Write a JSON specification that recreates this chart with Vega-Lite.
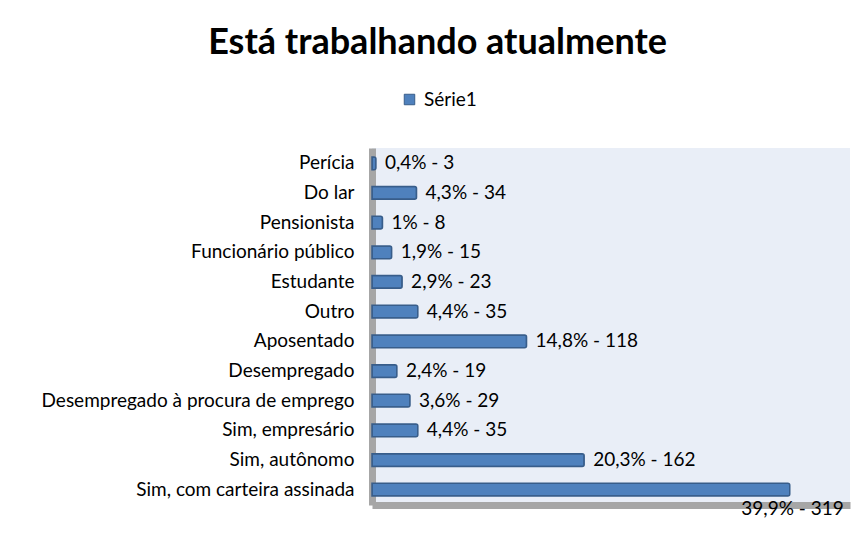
{
  "$schema": "https://vega.github.io/schema/vega-lite/v6.json",
  "width": 478,
  "height": 357,
  "padding": {"left": 41, "top": 25, "right": 11, "bottom": 5},
  "background": "white",
  "title": {
    "text": "Está trabalhando atualmente",
    "font": "Lato",
    "fontSize": 36,
    "fontWeight": "bold",
    "color": "black",
    "anchor": "middle",
    "frame": "bounds",
    "offset": 28,
    "dx": -8
  },
  "data": {
    "values": [
      {"cat": "Perícia", "n": 3, "label": "0,4% - 3", "serie": "Série1"},
      {"cat": "Do lar", "n": 34, "label": "4,3% - 34", "serie": "Série1"},
      {"cat": "Pensionista", "n": 8, "label": "1% - 8", "serie": "Série1"},
      {"cat": "Funcionário público", "n": 15, "label": "1,9% - 15", "serie": "Série1"},
      {"cat": "Estudante", "n": 23, "label": "2,9% - 23", "serie": "Série1"},
      {"cat": "Outro", "n": 35, "label": "4,4% - 35", "serie": "Série1"},
      {"cat": "Aposentado", "n": 118, "label": "14,8% - 118", "serie": "Série1"},
      {"cat": "Desempregado", "n": 19, "label": "2,4% - 19", "serie": "Série1"},
      {"cat": "Desempregado à procura de emprego", "n": 29, "label": "3,6% - 29", "serie": "Série1"},
      {"cat": "Sim, empresário", "n": 35, "label": "4,4% - 35", "serie": "Série1"},
      {"cat": "Sim, autônomo", "n": 162, "label": "20,3% - 162", "serie": "Série1"},
      {"cat": "Sim, com carteira assinada", "n": 319, "label": "39,9% - 319", "serie": "Série1"}
    ]
  },
  "encoding": {
    "y": {
      "field": "cat",
      "type": "nominal",
      "sort": null,
      "title": null,
      "scale": {"paddingInner": 0.57, "paddingOuter": 0.3},
      "axis": {
        "ticks": false,
        "labelFont": "Lato",
        "labelFontSize": 19,
        "labelColor": "black",
        "labelPadding": 18,
        "domainColor": "#A6A6A6",
        "domainWidth": 7,
        "labelLimit": 400
      }
    },
    "x": {
      "field": "n",
      "type": "quantitative",
      "title": null,
      "scale": {"domain": [0, 365], "nice": false},
      "axis": {
        "labels": false,
        "ticks": false,
        "grid": false,
        "domainColor": "#A6A6A6",
        "domainWidth": 7
      }
    }
  },
  "layer": [
    {
      "mark": {"type": "bar", "stroke": "#385D8A", "strokeWidth": 1.5, "cornerRadiusEnd": 2},
      "encoding": {
        "color": {
          "field": "serie",
          "type": "nominal",
          "title": null,
          "scale": {"range": ["#4F81BD"]},
          "legend": {
            "orient": "none",
            "legendX": 28,
            "legendY": -58,
            "symbolType": "square",
            "symbolSize": 110,
            "symbolStrokeColor": "#385D8A",
            "symbolStrokeWidth": 1,
            "labelFont": "Lato",
            "labelFontSize": 19,
            "labelColor": "black",
            "labelOffset": 5
          }
        }
      }
    },
    {
      "transform": [{"filter": "datum.n < 300"}],
      "mark": {"type": "text", "align": "left", "baseline": "middle", "dx": 9, "font": "Lato", "fontSize": 19, "color": "black"},
      "encoding": {"text": {"field": "label"}}
    },
    {
      "transform": [{"filter": "datum.n >= 300"}],
      "mark": {"type": "text", "align": "right", "baseline": "middle", "dx": 54, "dy": 19, "font": "Lato", "fontSize": 19, "color": "black"},
      "encoding": {"text": {"field": "label"}}
    }
  ],
  "config": {
    "view": {"fill": "#E9EEF7", "stroke": null}
  }
}
